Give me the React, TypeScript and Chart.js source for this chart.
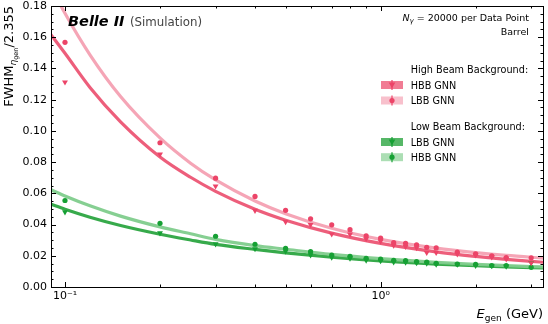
import { useEffect, useRef } from "react";
import { Chart, registerables } from "chart.js";
Chart.register(...registerables);

// ---------- data ----------
const energies = [0.1, 0.2, 0.3, 0.4, 0.5, 0.6, 0.7, 0.8, 0.9, 1.0, 1.1, 1.2, 1.3, 1.4, 1.5, 1.75, 2.0, 2.25, 2.5, 3.0];

// High beam background sample
const highBkgHbbGnn = [0.1312, 0.085, 0.0646, 0.049, 0.0418, 0.0399, 0.0339, 0.0338, 0.0308, 0.0293, 0.0266, 0.0258, 0.025, 0.022, 0.022, 0.0211, 0.0204, 0.0192, 0.0179, 0.0154];
const highBkgLbbGnn = [0.1567, 0.0924, 0.0697, 0.058, 0.0491, 0.0437, 0.0398, 0.0367, 0.0328, 0.0313, 0.0284, 0.028, 0.027, 0.0254, 0.025, 0.0224, 0.0213, 0.02, 0.0189, 0.0187];
// Low beam background sample
const lowBkgLbbGnn = [0.048, 0.0346, 0.0275, 0.0244, 0.0229, 0.0205, 0.019, 0.0184, 0.0171, 0.0167, 0.016, 0.0158, 0.0154, 0.0152, 0.0145, 0.0145, 0.0137, 0.0135, 0.0133, 0.0156];
const lowBkgHbbGnn = [0.0554, 0.0408, 0.0325, 0.0274, 0.0248, 0.0226, 0.0205, 0.0197, 0.0184, 0.0178, 0.0171, 0.0169, 0.0162, 0.016, 0.0152, 0.0147, 0.0145, 0.0137, 0.0137, 0.0126];

// fitted curves
const fitEnergies = [0.09, 0.1, 0.12, 0.15, 0.2, 0.25, 0.3, 0.4, 0.5, 0.7, 1.0, 1.5, 2.0, 2.5, 3.3];
const fitHighBkgHbbGnn = [0.162, 0.1497, 0.1278, 0.1058, 0.0833, 0.0703, 0.0613, 0.0498, 0.0428, 0.0345, 0.0279, 0.0225, 0.0196, 0.0177, 0.0158];
const fitHighBkgLbbGnn = [0.193, 0.1753, 0.1487, 0.122, 0.0955, 0.0793, 0.0686, 0.0551, 0.047, 0.0376, 0.0305, 0.0249, 0.022, 0.0202, 0.0185];
const fitLowBkgLbbGnn = [0.0531, 0.0498, 0.0447, 0.0394, 0.0338, 0.0301, 0.0273, 0.0241, 0.0219, 0.0191, 0.0167, 0.0147, 0.0136, 0.0129, 0.0122];
const fitLowBkgHbbGnn = [0.0624, 0.0583, 0.052, 0.0454, 0.0385, 0.0341, 0.0305, 0.0265, 0.0242, 0.0209, 0.0182, 0.0158, 0.0145, 0.0137, 0.0128];

const yTicks = [0, 0.02, 0.04, 0.06, 0.08, 0.1, 0.12, 0.14, 0.16, 0.18];
const yTickLabels = ["0.00", "0.02", "0.04", "0.06", "0.08", "0.10", "0.12", "0.14", "0.16", "0.18"];
const yMinorTicks = [0.005, 0.01, 0.015, 0.025, 0.03, 0.035, 0.045, 0.05, 0.055, 0.065, 0.07, 0.075, 0.085, 0.09, 0.095, 0.105, 0.11, 0.115, 0.125, 0.13, 0.135, 0.145, 0.15, 0.155, 0.165, 0.17, 0.175];
const xMajorTicks = [0.1, 1];
const xTickLabels = ["10⁻¹", "10⁰"];
const xMinorTicks = [0.2, 0.3, 0.4, 0.5, 0.6, 0.7, 0.8, 0.9, 2, 3];

// ---------- style ----------
const FONT = "'DejaVu Sans'";
const PINK_MARK = "rgb(236,68,104)";
const GREEN_MARK = "rgb(22,160,52)";
const PINK_DARK = "rgba(236,80,112,0.92)";
const PINK_LIGHT = "rgba(244,160,178,0.95)";
const GREEN_DARK = "rgba(38,163,60,0.92)";
const GREEN_LIGHT = "rgba(128,204,140,0.95)";

const pts = (xs: number[], ys: number[]) => xs.map((x, i) => ({ x, y: ys[i] }));

function drawMarker(ctx: CanvasRenderingContext2D, kind: string, x: number, y: number, color: string) {
  ctx.save();
  ctx.fillStyle = color;
  ctx.strokeStyle = color;
  ctx.lineWidth = 1.2;
  ctx.beginPath();
  ctx.moveTo(x, y - 5);
  ctx.lineTo(x, y + 5);
  ctx.stroke();
  ctx.beginPath();
  if (kind === "tri") {
    ctx.moveTo(x - 3.3, y - 2.4);
    ctx.lineTo(x + 3.3, y - 2.4);
    ctx.lineTo(x, y + 3.2);
    ctx.closePath();
  } else {
    ctx.arc(x, y, 2.6, 0, Math.PI * 2);
  }
  ctx.fill();
  ctx.restore();
}

const decorPlugin = {
  id: "decor",
  afterDraw(chart: any) {
    const ctx: CanvasRenderingContext2D = chart.ctx;
    const { left, right, top, bottom } = chart.chartArea;
    const xs = chart.scales.x;
    const ys = chart.scales.y;
    ctx.save();
    // frame
    ctx.strokeStyle = "#000";
    ctx.lineWidth = 1;
    ctx.strokeRect(Math.round(left) + 0.5, Math.round(top) + 0.5, Math.round(right - left), Math.round(bottom - top));
    // ticks (inward, all sides)
    ctx.beginPath();
    const hTick = (v: number, len: number) => {
      const py = Math.round(ys.getPixelForValue(v)) + 0.5;
      ctx.moveTo(left, py); ctx.lineTo(left + len, py);
      ctx.moveTo(right, py); ctx.lineTo(right - len, py);
    };
    const vTick = (v: number, len: number) => {
      const px = Math.round(xs.getPixelForValue(v)) + 0.5;
      ctx.moveTo(px, bottom); ctx.lineTo(px, bottom - len);
      ctx.moveTo(px, top); ctx.lineTo(px, top + len);
    };
    yTicks.forEach((v) => hTick(v, 5));
    yMinorTicks.forEach((v) => hTick(v, 2.5));
    xMajorTicks.forEach((v) => vTick(v, 5));
    xMinorTicks.forEach((v) => vTick(v, 2.5));
    ctx.stroke();

    // tick labels
    ctx.fillStyle = "#000";
    ctx.font = `11px ${FONT}`;
    ctx.textAlign = "right";
    ctx.textBaseline = "middle";
    yTicks.forEach((v, i) => ctx.fillText(yTickLabels[i], left - 4, ys.getPixelForValue(v)));
    ctx.textAlign = "center";
    ctx.textBaseline = "top";
    xMajorTicks.forEach((v, i) => ctx.fillText(xTickLabels[i], xs.getPixelForValue(v), bottom + 4));

    // x label, right-aligned: E_gen (GeV)
    {
      const base = 318;
      ctx.textBaseline = "alphabetic";
      ctx.textAlign = "left";
      ctx.font = `13px ${FONT}`;
      const tail = " (GeV)";
      const wTail = ctx.measureText(tail).width;
      ctx.font = `9px ${FONT}`;
      const wSub = ctx.measureText("gen").width;
      ctx.font = `italic 13px ${FONT}`;
      const wE = ctx.measureText("E").width;
      let x = right - wTail - wSub - wE;
      ctx.fillText("E", x, base);
      x += wE;
      ctx.font = `9px ${FONT}`;
      ctx.fillText("gen", x, base + 3);
      x += wSub;
      ctx.font = `13px ${FONT}`;
      ctx.fillText(tail, x, base);
    }

    // y label, top-aligned, rotated: FWHM_{eta_gen}/2.355
    {
      ctx.save();
      ctx.textAlign = "left";
      ctx.textBaseline = "alphabetic";
      ctx.font = `13px ${FONT}`;
      const w1 = ctx.measureText("FWHM").width;
      const w3 = ctx.measureText("/2.355").width;
      ctx.font = `italic 9px ${FONT}`;
      const w2a = ctx.measureText("η").width;
      ctx.font = `6.5px ${FONT}`;
      const w2b = ctx.measureText("gen").width;
      const total = w1 + w2a + w2b + w3;
      ctx.translate(13, top + total);
      ctx.rotate(-Math.PI / 2);
      let u = 0;
      ctx.font = `13px ${FONT}`;
      ctx.fillText("FWHM", u, 0);
      u += w1;
      ctx.font = `italic 9px ${FONT}`;
      ctx.fillText("η", u, 2.5);
      u += w2a;
      ctx.font = `6.5px ${FONT}`;
      ctx.fillText("gen", u, 4.5);
      u += w2b;
      ctx.font = `13px ${FONT}`;
      ctx.fillText("/2.355", u, 0);
      ctx.restore();
    }

    // Belle II (Simulation)
    ctx.textAlign = "left";
    ctx.textBaseline = "alphabetic";
    ctx.fillStyle = "#000";
    ctx.font = `bold italic 14.5px ${FONT}`;
    ctx.fillText("Belle II", 68, 26);
    ctx.fillStyle = "#444";
    ctx.font = `11.8px ${FONT}`;
    ctx.fillText("(Simulation)", 130, 26);

    // N_gamma text
    {
      ctx.fillStyle = "#000";
      const rx = 529;
      ctx.font = `9.5px ${FONT}`;
      const rest = " = 20000 per Data Point";
      const wRest = ctx.measureText(rest).width;
      ctx.font = `italic 7px ${FONT}`;
      const wG = ctx.measureText("γ").width;
      ctx.font = `italic 9.5px ${FONT}`;
      const wN = ctx.measureText("N").width;
      let x = rx - wRest - wG - wN;
      ctx.fillText("N", x, 21);
      x += wN;
      ctx.font = `italic 7px ${FONT}`;
      ctx.fillText("γ", x, 23);
      x += wG;
      ctx.font = `9.5px ${FONT}`;
      ctx.fillText(rest, x, 21);
      ctx.textAlign = "right";
      ctx.fillText("Barrel", rx, 35);
    }

    // legend
    {
      ctx.textAlign = "left";
      ctx.fillStyle = "#000";
      ctx.font = `9.7px ${FONT}`;
      const tx = 410.7;
      const px = 381;
      const pw = 22;
      const ph = 8;
      const entry = (label: string, cy: number, patch: string, kind: string, mark: string) => {
        ctx.fillStyle = patch;
        ctx.fillRect(px, cy - ph / 2, pw, ph);
        drawMarker(ctx, kind, px + pw / 2, cy, mark);
        ctx.fillStyle = "#000";
        ctx.font = `9.7px ${FONT}`;
        ctx.fillText(label, tx, cy + 3.5);
      };
      ctx.fillText("High Beam Background:", tx, 73);
      entry("HBB GNN", 85, "rgba(236,80,112,0.75)", "tri", PINK_MARK);
      entry("LBB GNN", 100.5, "rgba(244,150,170,0.6)", "circ", PINK_MARK);
      ctx.fillStyle = "#000";
      ctx.fillText("Low Beam Background:", tx, 130);
      entry("LBB GNN", 142, "rgba(38,163,60,0.78)", "tri", GREEN_MARK);
      entry("HBB GNN", 157.2, "rgba(128,204,140,0.65)", "circ", GREEN_MARK);
    }
    ctx.restore();
  },
};

export default function App() {
  const ref = useRef<HTMLCanvasElement | null>(null);
  useEffect(() => {
    document.body.style.margin = "0";
    const canvas = ref.current!;
    const fitDs = (data: number[], color: string) => ({
      type: "line" as const,
      data: pts(fitEnergies, data),
      borderColor: color,
      borderWidth: 3.2,
      pointRadius: 0,
      showLine: true,
      cubicInterpolationMode: "monotone" as const,
      order: 2,
    });
    const ptDs = (data: number[], color: string, tri: boolean) => ({
      type: "scatter" as const,
      data: pts(energies, data),
      backgroundColor: color,
      borderColor: color,
      borderWidth: 0,
      pointStyle: tri ? "triangle" : "circle",
      rotation: tri ? 180 : 0,
      pointRadius: tri ? 3.4 : 2.6,
      order: 1,
    });
    const chart = new Chart(canvas, {
      type: "scatter",
      data: {
        datasets: [
          ptDs(highBkgHbbGnn, PINK_MARK, true),
          ptDs(highBkgLbbGnn, PINK_MARK, false),
          ptDs(lowBkgLbbGnn, GREEN_MARK, true),
          ptDs(lowBkgHbbGnn, GREEN_MARK, false),
          fitDs(fitHighBkgLbbGnn, PINK_LIGHT),
          fitDs(fitHighBkgHbbGnn, PINK_DARK),
          fitDs(fitLowBkgHbbGnn, GREEN_LIGHT),
          fitDs(fitLowBkgLbbGnn, GREEN_DARK),
        ] as any,
      },
      options: {
        responsive: false,
        animation: false,
        devicePixelRatio: 1,
        layout: { padding: { left: 51, right: 5, top: 6, bottom: 37 } },
        plugins: { legend: { display: false }, tooltip: { enabled: false } },
        scales: {
          x: { type: "logarithmic", min: 0.0903, max: 3.27, display: false },
          y: { type: "linear", min: 0, max: 0.18, display: false },
        },
      },
      plugins: [decorPlugin],
    });
    return () => chart.destroy();
  }, []);
  return (
    <div style={{ width: 548, height: 324 }}>
      <canvas ref={ref} width={548} height={324} />
    </div>
  );
}
